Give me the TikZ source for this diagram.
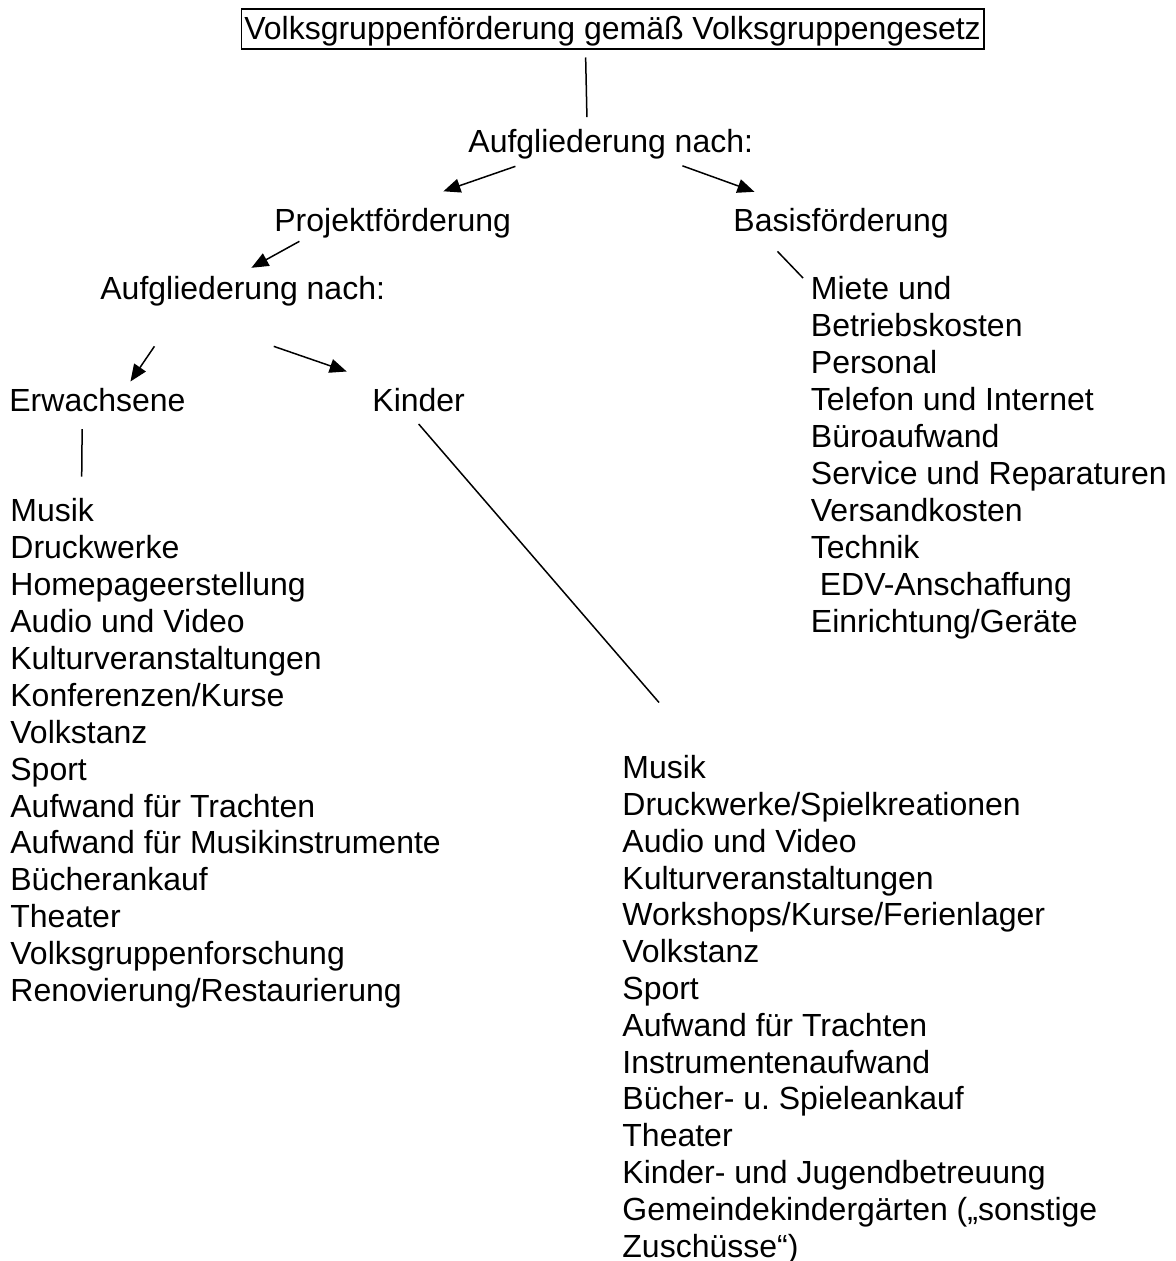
\documentclass[tikz,border=0pt]{standalone}
\usepackage{fontspec}
\setmainfont{Liberation Sans}
\usepackage{tikz}
\usetikzlibrary{arrows.meta, calc, positioning}

\begin{document}
\begin{tikzpicture}[x=0.5pt,y=-0.5pt]
        \useasboundingbox (0,0) rectangle (1175,1261);
        \begin{scope}[every node/.style={inner sep=0pt,anchor=base west,align=left,font=\fontsize{16pt}{18.465pt}\selectfont}]
          \node[draw,line width=0.8pt,inner xsep=1.5pt,text height=15.1pt,text depth=4.9pt] (title) at (240.5,39.5) {Volksgruppenförderung gemäß Volksgruppengesetz};
          \node (auf1) at (468,152.7) {Aufgliederung nach:};
          \node (proj) at (274,231.4) {Projektförderung};
          \node (basis) at (733,231.4) {Basisförderung};
          \node (auf2) at (100,299.3) {Aufgliederung nach:};
          \node (erw) at (9,411.7) {Erwachsene};
          \node (kind) at (372,411.7) {Kinder};
          \node[anchor=north west] (bliste) at (810.5,276.4) {Miete und\\Betriebskosten\\Personal\\Telefon und Internet\\Büroaufwand\\Service und Reparaturen\\Versandkosten\\Technik\\\ EDV-Anschaffung\\Einrichtung/Geräte};
          \node[anchor=north west] (eliste) at (10,498) {Musik\\Druckwerke\\Homepageerstellung\\Audio und Video\\Kulturveranstaltungen\\Konferenzen/Kurse\\Volkstanz\\Sport\\Aufwand für Trachten\\Aufwand für Musikinstrumente\\Bücherankauf\\Theater\\Volksgruppenforschung\\Renovierung/Restaurierung};
          \node[anchor=north west,font=\fontsize{16pt}{18.4pt}\selectfont] (kliste) at (622,755) {Musik\\Druckwerke/Spielkreationen\\Audio und Video\\Kulturveranstaltungen\\Workshops/Kurse/Ferienlager\\Volkstanz\\Sport\\Aufwand für Trachten\\Instrumentenaufwand\\Bücher- u.\ Spieleankauf\\Theater\\Kinder- und Jugendbetreuung\\Gemeindekindergärten („sonstige\\Zuschüsse“)};
        \end{scope}
        \begin{scope}[every edge/.style={draw=black,line width=0.75pt},pfeil/.style={-{Triangle[length=8.5pt,width=7pt]}}]
          \path ($(title.south)+(-26.9,7.4)$) edge ($(auf1.north)+(-23.8,-12)$);
          \path ($(auf1.south)+(-95.3,6.6)$) edge[pfeil] ($(proj.north)+(50.7,-16.5)$);
          \path ($(auf1.south)+(71.7,6.1)$) edge[pfeil] ($(basis.north)+(-86.6,-16)$);
          \path ($(proj.south)+(-93.3,2.9)$) edge[pfeil] ($(auf2.north)+(8.7,-7.9)$);
          \path ($(basis.south)+(-63.6,12.9)$) edge ($(bliste.north west)+(-7.5,1.6)$);
          \path ($(auf2.south)+(-88.3,40)$) edge[pfeil] ($(erw.north)+(33,-6.6)$);
          \path ($(auf2.south)+(31,40)$) edge[pfeil] ($(kind.north west)+(-25.3,-16.6)$);
          \path ($(erw.south)+(-15.3,16.6)$) edge ($(eliste.north west)+(71.7,-21.3)$);
          \path ($(kind.south)+(0,11.6)$) edge ($(kliste.north west)+(37,-52.5)$);
        \end{scope}
      \end{tikzpicture}
\end{document}
